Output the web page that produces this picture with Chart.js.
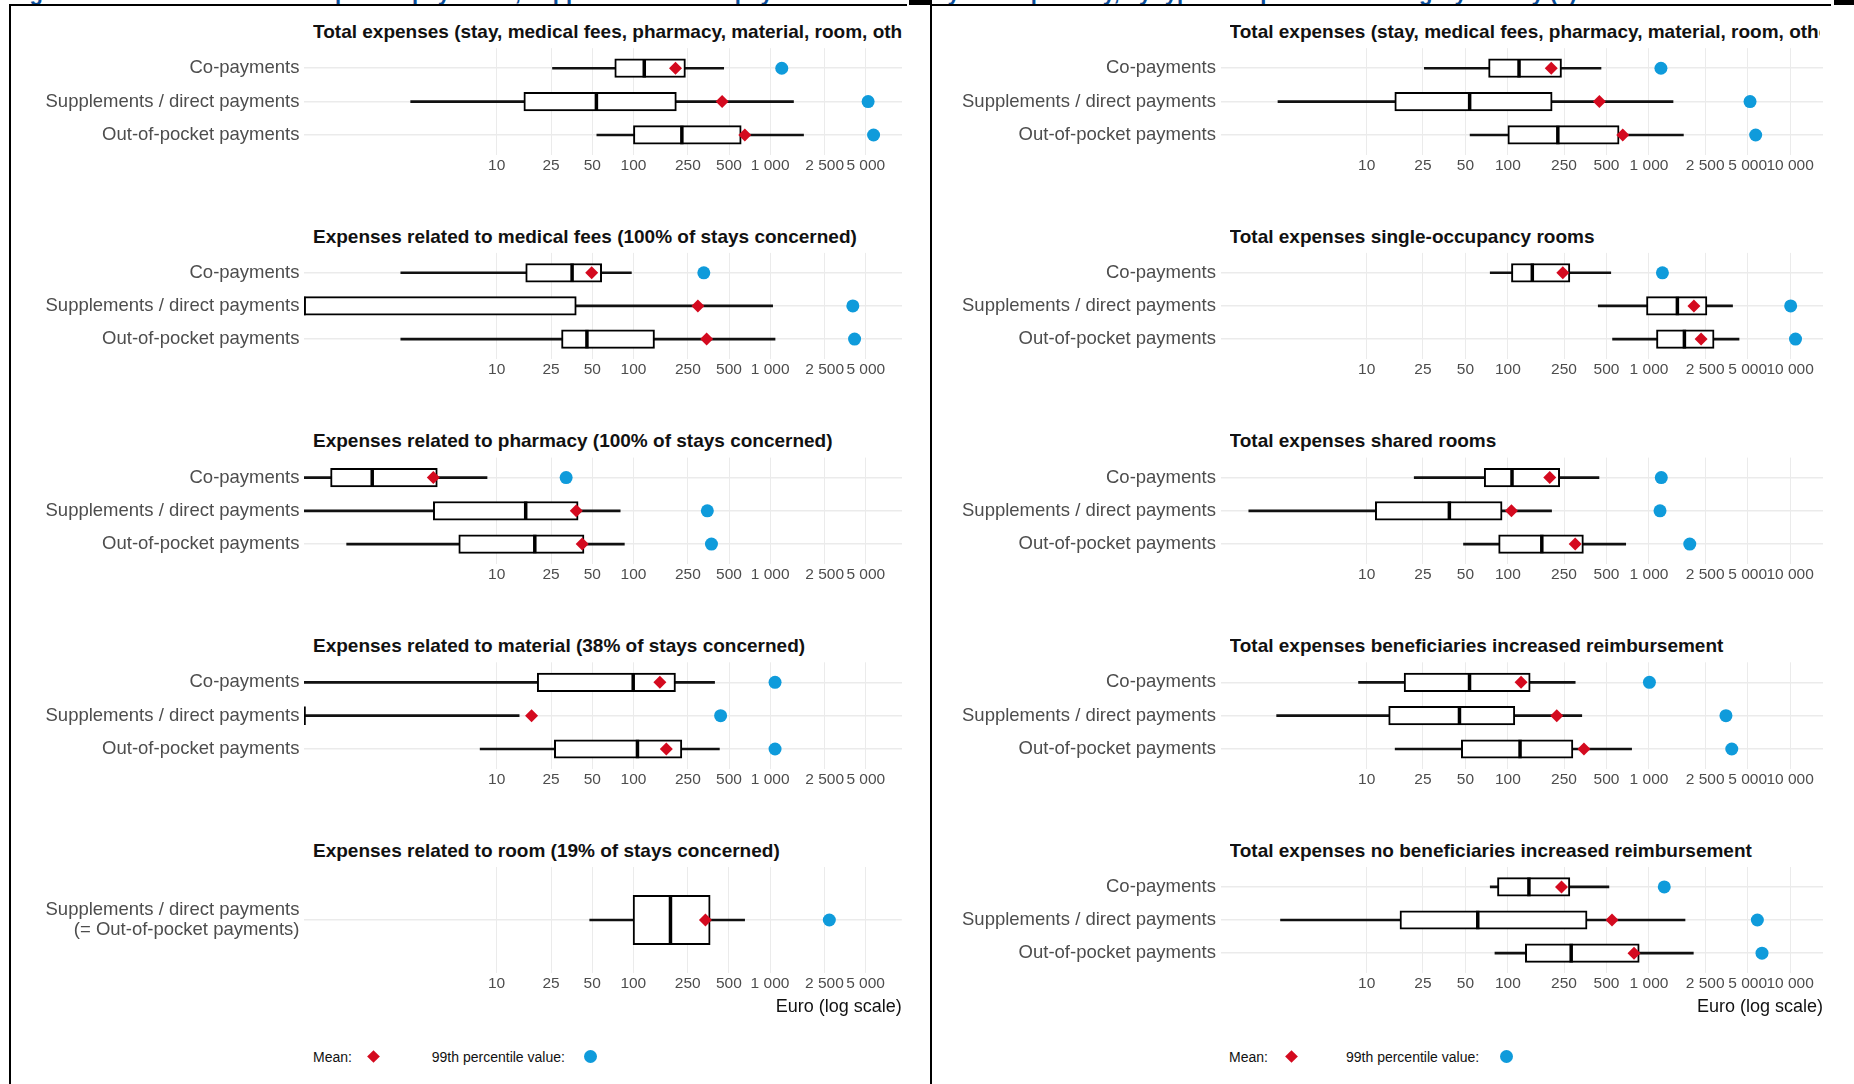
<!DOCTYPE html>
<html>
<head>
<meta charset="utf-8">
<script src="https://cdn.jsdelivr.net/npm/chart.js@4.4.1/dist/chart.umd.min.js"></script>
<style>
  html, body { margin: 0; padding: 0; background: #fff; }
  body { width: 1854px; height: 1084px; position: relative; overflow: hidden; font-family: 'Liberation Sans', Arial, sans-serif; }
  .line { position: absolute; background: #000; z-index: 5; }
  .header { position: absolute; left: 0; top: 0; width: 1854px; height: 4px; overflow: hidden; z-index: 4; }
  .header span { position: absolute; left: 10px; top: -19px; font-weight: bold; font-size: 22px; line-height: 24px; color: #0b4f9c; white-space: nowrap; }
  .ptitle { position: absolute; font-weight: bold; font-size: 19px; line-height: 22px; color: #111; white-space: nowrap; overflow: hidden; }
  .legend { position: absolute; font-size: 14px; line-height: 16px; color: #111; white-space: nowrap; }
  .diamond { position: absolute; width: 9px; height: 9px; background: #d40a1f; transform: rotate(45deg); }
  .dot { position: absolute; width: 13px; height: 13px; border-radius: 50%; background: #0f9bdb; }
  canvas { position: absolute; }
</style>
</head>
<body>

<div class="header"><span>Figure 2: Distribution of out-of-pocket payments, supplements/direct payments and co-payments per stay, by type of expense and category of stay (€)</span></div>

<div class="line" style="left:9px;top:4px;width:1.5px;height:1080px"></div>
<div class="line" style="left:930px;top:0;width:1.5px;height:1084px"></div>
<div class="line" style="left:9px;top:4px;width:898px;height:1.5px"></div>
<div class="line" style="left:930px;top:4px;width:901px;height:1.5px"></div>
<div class="line" style="left:909px;top:0;width:21px;height:5px"></div>
<div class="line" style="left:1834px;top:0;width:20px;height:5px"></div>

<script>
// categories
const rowLabels = ['Co-payments', 'Supplements / direct payments', 'Out-of-pocket payments'];
const roomLabels = [['Supplements / direct payments', '(= Out-of-pocket payments)']];

// x axis tick values (euro, log scale)
const ticksLeft = [10, 25, 50, 100, 250, 500, 1000, 2500, 5000];
const ticksRight = [10, 25, 50, 100, 250, 500, 1000, 2500, 5000, 10000];

// values per row: [co-payments, supplements / direct, out-of-pocket]
// 0 = below the log axis (drawn at the panel edge)
const totalLow = [25.6, 2.35, 54];
const totalQ1 = [73, 15.8, 100];
const totalMedian = [120, 53.6, 226];
const totalQ3 = [240, 206, 614];
const totalHigh = [457, 1480, 1753];
const totalMean = [203, 445, 652];
const totalP99 = [1215, 5200, 5700];

const medicalLow = [1.99, 0, 1.99];
const medicalQ1 = [16.3, 0, 29.8];
const medicalMedian = [35.6, 0, 45.7];
const medicalQ3 = [58.6, 38.2, 142.6];
const medicalHigh = [96.6, 1042, 1085];
const medicalMean = [49.5, 296, 343];
const medicalP99 = [327, 4020, 4140];

const pharmacyLow = [0, 0, 0.8];
const pharmacyQ1 = [0.61, 3.44, 5.28];
const pharmacyMedian = [1.23, 16.3, 19];
const pharmacyQ3 = [3.68, 39.4, 43.5];
const pharmacyHigh = [8.5, 80, 85.8];
const pharmacyMean = [3.44, 38.2, 42.2];
const pharmacyP99 = [32.2, 347, 372];

const materialLow = [0, 0, 7.57];
const materialQ1 = [19.8, 0, 26.4];
const materialMedian = [99.6, 0, 107];
const materialQ3 = [203, 0, 226];
const materialHigh = [392, 14.6, 425];
const materialMean = [156, 18, 174];
const materialP99 = [1085, 434, 1085];

const roomLow = [48];
const roomQ1 = [99.6];
const roomMedian = [187];
const roomQ3 = [365];
const roomHigh = [652];
const roomMean = [337];
const roomP99 = [2716];

const singleLow = [75, 437, 552];
const singleQ1 = [106, 960, 1130];
const singleMedian = [149, 1589, 1782];
const singleQ3 = [275, 2574, 2892];
const singleHigh = [536, 3909, 4345];
const singleMean = [245, 2081, 2340];
const singleP99 = [1245, 10090, 10920];

const sharedLow = [21.7, 1.46, 48.5];
const sharedQ1 = [68, 11.5, 86];
const sharedMedian = [107, 38.5, 174];
const sharedQ3 = [233, 91, 343];
const sharedHigh = [442, 204, 684];
const sharedMean = [198, 106, 300];
const sharedP99 = [1222, 1197, 1945];

const benefLow = [8.75, 2.3, 15.9];
const benefQ1 = [18.4, 14.3, 46.8];
const benefMedian = [53.5, 45.4, 122];
const benefQ3 = [144, 112, 289];
const benefHigh = [300, 334, 753];
const benefMean = [124, 222, 346];
const benefP99 = [1007, 3510, 3860];

const noBenefLow = [75, 2.45, 81];
const noBenefQ1 = [84.4, 17.2, 133];
const noBenefMedian = [141, 61.2, 281];
const noBenefQ3 = [275, 364, 853];
const noBenefHigh = [520, 1800, 2061];
const noBenefMean = [240, 547, 783];
const noBenefP99 = [1283, 5860, 6320];

const RED = '#d40a1f';
const BLUE = '#0f9bdb';
const FONT = "'Liberation Sans', Arial, sans-serif";

// column geometry
const columns = [
    { left: 0, width: 930, plotLeft: 304, plotRight: 902, titleClip: 902, xMin: 0.39, xMax: 9200, ticks: ticksLeft },
    { left: 930, width: 924, plotLeft: 1220.5, plotRight: 1823, titleClip: 1820, xMin: 0.92, xMax: 17100, ticks: ticksRight }
];

const panels = [
    { col: 0, row: 0, title: 'Total expenses (stay, medical fees, pharmacy, material, room, other)', labels: rowLabels,
      low: totalLow, q1: totalQ1, median: totalMedian, q3: totalQ3, high: totalHigh, mean: totalMean, p99: totalP99 },
    { col: 0, row: 1, title: 'Expenses related to medical fees (100% of stays concerned)', labels: rowLabels,
      low: medicalLow, q1: medicalQ1, median: medicalMedian, q3: medicalQ3, high: medicalHigh, mean: medicalMean, p99: medicalP99 },
    { col: 0, row: 2, title: 'Expenses related to pharmacy (100% of stays concerned)', labels: rowLabels,
      low: pharmacyLow, q1: pharmacyQ1, median: pharmacyMedian, q3: pharmacyQ3, high: pharmacyHigh, mean: pharmacyMean, p99: pharmacyP99 },
    { col: 0, row: 3, title: 'Expenses related to material (38% of stays concerned)', labels: rowLabels,
      low: materialLow, q1: materialQ1, median: materialMedian, q3: materialQ3, high: materialHigh, mean: materialMean, p99: materialP99 },
    { col: 0, row: 4, title: 'Expenses related to room (19% of stays concerned)', labels: roomLabels,
      low: roomLow, q1: roomQ1, median: roomMedian, q3: roomQ3, high: roomHigh, mean: roomMean, p99: roomP99 },
    { col: 1, row: 0, title: 'Total expenses (stay, medical fees, pharmacy, material, room, other)', labels: rowLabels,
      low: totalLow, q1: totalQ1, median: totalMedian, q3: totalQ3, high: totalHigh, mean: totalMean, p99: totalP99 },
    { col: 1, row: 1, title: 'Total expenses single-occupancy rooms', labels: rowLabels,
      low: singleLow, q1: singleQ1, median: singleMedian, q3: singleQ3, high: singleHigh, mean: singleMean, p99: singleP99 },
    { col: 1, row: 2, title: 'Total expenses shared rooms', labels: rowLabels,
      low: sharedLow, q1: sharedQ1, median: sharedMedian, q3: sharedQ3, high: sharedHigh, mean: sharedMean, p99: sharedP99 },
    { col: 1, row: 3, title: 'Total expenses beneficiaries increased reimbursement', labels: rowLabels,
      low: benefLow, q1: benefQ1, median: benefMedian, q3: benefQ3, high: benefHigh, mean: benefMean, p99: benefP99 },
    { col: 1, row: 4, title: 'Total expenses no beneficiaries increased reimbursement', labels: rowLabels,
      low: noBenefLow, q1: noBenefQ1, median: noBenefMedian, q3: noBenefQ3, high: noBenefHigh, mean: noBenefMean, p99: noBenefP99 }
];

const PLOT_H = 106;      // height of one panel's plot area
const PANEL_STEP = 204.7;
const FIRST_TOP = 48.2;
const PAD_TOP = 30;

function formatTick(v) {
    return String(v).replace(/\B(?=(\d{3})+(?!\d))/g, ' ');
}

function addDiv(cls, style, text) {
    const d = document.createElement('div');
    d.className = cls;
    Object.assign(d.style, style);
    if (text) d.textContent = text;
    document.body.appendChild(d);
    return d;
}

function drawPanel(p) {
    const col = columns[p.col];
    const isBottom = p.row === 4;
    const plotTop = FIRST_TOP + PANEL_STEP * p.row;
    const canvasTop = Math.floor(plotTop) - PAD_TOP;
    const axisH = isBottom ? 45 : 30;
    const height = (plotTop - canvasTop) + PLOT_H + axisH;

    // panel title, clipped at the right edge of the plot like the original
    addDiv('ptitle', {
        left: (col.plotLeft + 9) + 'px',
        top: (plotTop - 27.2) + 'px',
        width: (col.titleClip - col.plotLeft - 9) + 'px'
    }, p.title);

    const canvas = document.createElement('canvas');
    canvas.width = col.width;
    canvas.height = Math.ceil(height);
    canvas.style.left = col.left + 'px';
    canvas.style.top = canvasTop + 'px';
    document.body.appendChild(canvas);

    const n = p.labels.length;
    const yMin = 0.4, yMax = n + 0.6;
    const rows = p.labels.map((_, i) => i + 1);
    const boxSize = PLOT_H / (yMax - yMin) * 0.56;
    const val = v => (v > 0 ? v : col.xMin);
    const span = (a, b) => rows.map((r, i) => ({ x: [val(a[i]), val(b[i])], y: r }));
    const pts = a => rows.map((r, i) => ({ x: val(a[i]), y: r }));

    new Chart(canvas, {
        type: 'bar',
        data: {
            datasets: [
                { type: 'scatter', data: pts(p.p99), pointStyle: 'circle', pointRadius: 6.5, pointHoverRadius: 6.5,
                  pointBackgroundColor: BLUE, pointBorderWidth: 0, order: 0 },
                { type: 'scatter', data: pts(p.mean), pointStyle: 'rectRot', pointRadius: 6.5, pointHoverRadius: 6.5,
                  pointBackgroundColor: RED, pointBorderWidth: 0, order: 1 },
                { type: 'scatter', data: pts(p.median), pointStyle: 'line', pointRotation: 90,
                  pointRadius: boxSize / 2, pointHoverRadius: boxSize / 2,
                  pointBorderColor: '#000', pointBorderWidth: 3.5, order: 2 },
                { data: span(p.q1, p.q3), backgroundColor: '#fff', borderColor: '#000', borderWidth: 2,
                  borderSkipped: false, barThickness: boxSize, grouped: false, order: 3 },
                { data: span(p.low, p.high), backgroundColor: '#111', borderWidth: 0,
                  barThickness: 2, grouped: false, order: 4 }
            ]
        },
        options: {
            responsive: false,
            animation: false,
            indexAxis: 'y',
            layout: { padding: { top: plotTop - canvasTop, right: col.left + col.width - col.plotRight, left: 0, bottom: 0 } },
            plugins: { legend: { display: false }, tooltip: { enabled: false }, title: { display: false } },
            scales: {
                x: {
                    type: 'logarithmic',
                    min: col.xMin,
                    max: col.xMax,
                    bounds: 'data',
                    offset: false,
                    afterBuildTicks: s => { s.ticks = col.ticks.map(v => ({ value: v })); },
                    afterFit: s => { s.height = axisH; },
                    grid: { color: '#ebebeb', lineWidth: 1, drawTicks: false, offset: false },
                    border: { display: false },
                    ticks: {
                        autoSkip: false, maxRotation: 0, minRotation: 0, padding: 1,
                        color: '#4d4d4d', font: { family: FONT, size: 15.5 },
                        callback: v => formatTick(v)
                    },
                    title: {
                        display: isBottom, text: 'Euro (log scale)', align: 'end', padding: 0,
                        color: '#111', font: { family: FONT, size: 18 }
                    }
                },
                y: {
                    type: 'linear',
                    min: yMin,
                    max: yMax,
                    reverse: true,
                    bounds: 'data',
                    offset: false,
                    afterBuildTicks: s => { s.ticks = rows.map(v => ({ value: v })); },
                    afterFit: s => { s.width = col.plotLeft - col.left; },
                    grid: { color: '#ebebeb', lineWidth: 1.5, drawTicks: false, offset: false },
                    border: { display: false },
                    ticks: {
                        padding: 4.5, color: '#4d4d4d',
                        font: { family: FONT, size: 18.5, lineHeight: 1.05 },
                        callback: v => p.labels[v - 1]
                    }
                }
            }
        }
    });
}

panels.forEach(drawPanel);

// bottom legend under each column
columns.forEach((col, i) => {
    const x = i === 0 ? [313, 373.7, 431.8, 590] : [1229, 1291.7, 1346, 1506.5];
    const cy = 1056.7;
    addDiv('legend', { left: x[0] + 'px', top: (cy - 8) + 'px' }, 'Mean:');
    addDiv('diamond', { left: (x[1] - 4.5) + 'px', top: (cy - 4.5) + 'px' });
    addDiv('legend', { left: x[2] + 'px', top: (cy - 8) + 'px' }, '99th percentile value:');
    addDiv('dot', { left: (x[3] - 6.5) + 'px', top: (cy - 6.5) + 'px' });
});
</script>
</body>
</html>
